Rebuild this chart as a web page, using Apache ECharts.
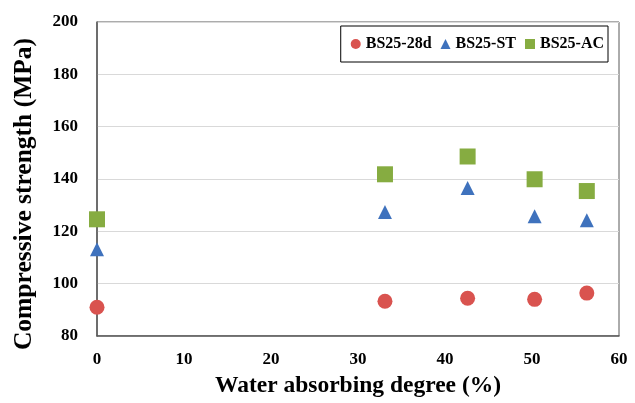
<!DOCTYPE html>
<html>
<head>
<meta charset="utf-8">
<title>Compressive strength</title>
<script src="https://cdn.jsdelivr.net/npm/echarts@6/dist/echarts.min.js"></script>
</head>
<body style="margin:0;background:#fff;">
<div id="main" style="width:635px;height:403px;"></div>
<script>
// water absorbing degree (%) for each specimen
var waterDegree = [0, 33.1, 42.6, 50.3, 56.3];
// compressive strength (MPa)
var bs28d = [91.0, 93.3, 94.4, 94.0, 96.4];
var bsST = [113.2, 127.4, 136.6, 125.8, 124.2];
var bsAC = [124.6, 141.8, 148.6, 139.9, 135.4];
var seriesNames = ['BS25-28d', 'BS25-ST', 'BS25-AC'];

function pairs(ys) {
    return ys.map(function (y, i) { return [waterDegree[i], y]; });
}

var font = 'Liberation Serif';
var chart = echarts.init(document.getElementById('main'));
chart.setOption({
    animation: false,
    textStyle: { fontFamily: font },
    legend: {
        right: 27,
        top: 26,
        padding: [10, 4, 10, 10],
        borderColor: '#000',
        borderWidth: 1,
        itemWidth: 10,
        itemHeight: 10,
        itemGap: 9,
        textStyle: { fontFamily: font, fontWeight: 'bold', fontSize: 16, color: '#000' },
        data: [
            { name: seriesNames[0], icon: 'circle' },
            { name: seriesNames[1], icon: 'triangle' },
            { name: seriesNames[2], icon: 'rect' }
        ]
    },
    grid: { left: 97, right: 16, top: 22, bottom: 66, show: true, borderColor: '#595959', borderWidth: 1 },
    xAxis: {
        type: 'value', min: 0, max: 60, interval: 10,
        name: 'Water absorbing degree (%)',
        nameLocation: 'middle', nameGap: 38,
        nameTextStyle: { fontFamily: font, fontWeight: 'bold', fontSize: 23.5, color: '#000' },
        axisLine: { show: true, lineStyle: { color: '#595959', width: 1.5 } },
        axisTick: { show: false },
        axisLabel: { margin: 15, fontFamily: font, fontWeight: 'bold', fontSize: 17, color: '#000' },
        splitLine: { show: false }
    },
    yAxis: {
        type: 'value', min: 80, max: 200, interval: 20,
        name: 'Compressive strength (MPa)',
        nameLocation: 'middle', nameGap: 60,
        nameTextStyle: { fontFamily: font, fontWeight: 'bold', fontSize: 25.5, color: '#000', padding: [0, 30, 0, 0] },
        axisLine: { show: true, lineStyle: { color: '#595959', width: 1.5 } },
        axisTick: { show: false },
        axisLabel: { margin: 19, fontFamily: font, fontWeight: 'bold', fontSize: 17, color: '#000' },
        splitLine: { show: true, lineStyle: { color: '#d9d9d9', width: 1 } }
    },
    series: [
        { name: seriesNames[0], type: 'scatter', symbol: 'circle', symbolSize: 15,
          itemStyle: { color: '#d9534f', opacity: 1 }, data: pairs(bs28d) },
        { name: seriesNames[1], type: 'scatter', symbol: 'triangle', symbolSize: 14,
          itemStyle: { color: '#3f72bd', opacity: 1 }, data: pairs(bsST) },
        { name: seriesNames[2], type: 'scatter', symbol: 'rect', symbolSize: 16,
          itemStyle: { color: '#86ac41', opacity: 1 }, data: pairs(bsAC) }
    ]
});
</script>
</body>
</html>
